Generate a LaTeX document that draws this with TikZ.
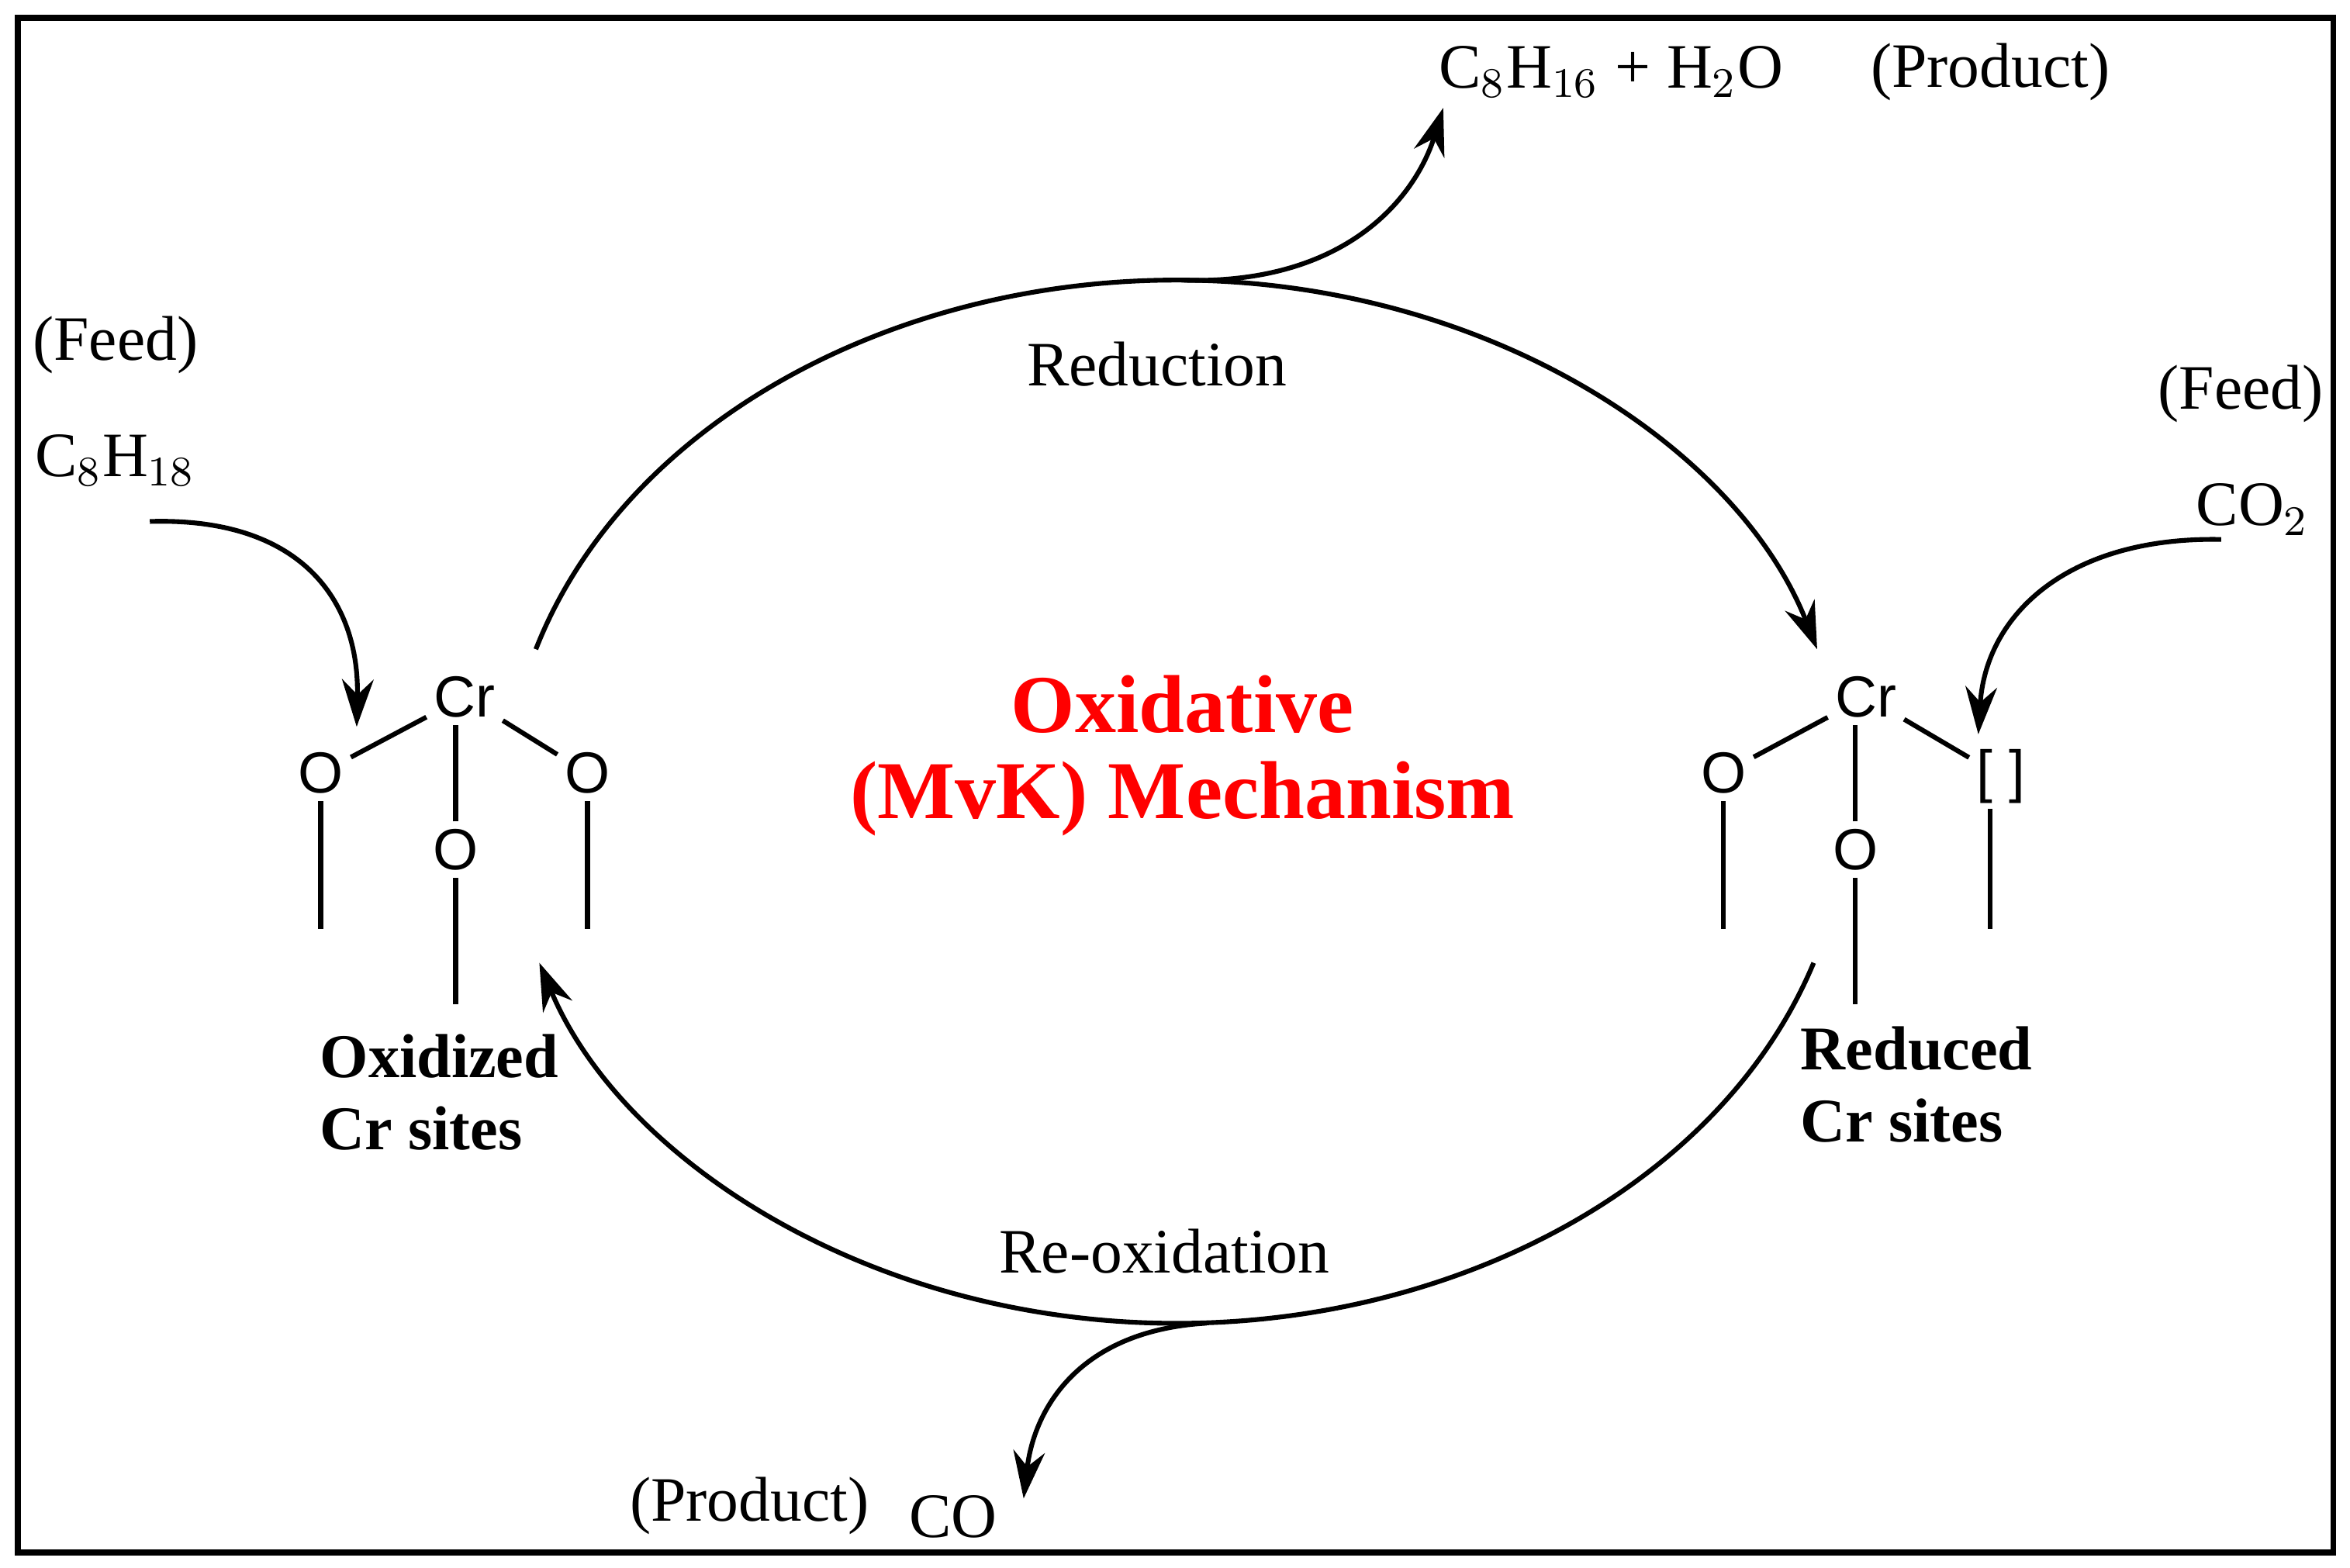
\documentclass[tikz,border=0pt]{standalone}
\usepackage{fontspec}
\setmainfont{Liberation Serif}
\newfontfamily\sansf{Liberation Sans}
\usetikzlibrary{arrows.meta}
\begin{document}
\begin{tikzpicture}[x=0.01cm,y=-0.01cm,
  line width=0.9pt,
  arr/.style={-{Stealth[length=9pt,width=6pt]}},
  txt/.style={font=\fontsize{12}{14}\selectfont,inner sep=0pt},
  lbl/.style={font=\fontsize{11.8}{14}\selectfont\bfseries,align=left,inner sep=0pt,anchor=west},
  atm/.style={font=\sansf\fontsize{11}{13}\selectfont,inner sep=1pt},
  mech/.style={font=\fontsize{15.6}{19}\selectfont\bfseries,text=red,inner sep=0pt}]
\useasboundingbox (0,0) rectangle (1568,1046);
\draw[line width=1.1pt] (12,12) rectangle (1557,1036);
% cycle
\coordinate (c) at (785,535);
\draw[arr] (c) ++(163:447 and -348) arc[start angle=163,end angle=17,x radius=447,y radius=-348];
\draw[arr] (c) ++(-18:447 and -348) arc[start angle=-18,end angle=-162,x radius=447,y radius=-348];
\coordinate (t) at (790,187);
\coordinate (b) at (805,883);
\draw[arr] (t) .. controls (900,190) and (945,130) .. (963,72);
\draw[arr] (b) .. controls (720,888) and (690,940) .. (683,1000);
% feeds
\coordinate (f1) at (100,348);
\coordinate (f2) at (1482,360);
\draw[arr] (f1) .. controls (200,345) and (240,400) .. (238,485);
\draw[arr] (f2) .. controls (1380,358) and (1325,410) .. (1320,490);
% texts
\node[txt] at (77,230) {(Feed)};
\node[txt] at (77,307) {C$_8$H$_{18}$};
\node[txt] at (1495,263) {(Feed)};
\node[txt] at (1503,340) {CO$_2$};
\node[txt] at (1075,48) {C$_8$H$_{16}$ + H$_2$O};
\node[txt] at (1328,48) {(Product)};
\node[txt] at (772,243) {Reduction};
\node[txt] at (777,835) {Re-oxidation};
\node[txt] at (500,1005) {(Product)};
\node[txt] at (636,1012) {CO};
\node[mech] at (789,470) {Oxidative};
\node[mech] at (789,533) {(MvK) Mechanism};
\node[lbl] at (212,705) {Oxidized};
\node[lbl] at (212,753) {Cr sites};
\node[lbl] at (1200,700) {Reduced};
\node[lbl] at (1200,748) {Cr sites};
% left Cr
\node[atm] (cr1) at (310,465) {Cr};
\node[atm] (o1a) at (214,516) {O};
\node[atm] (o1b) at (392,516) {O};
\node[atm] (o1c) at (304,567) {O};
\draw (o1a) -- (cr1) -- (o1b);
\draw (o1c.north) -- (o1c.north |- cr1.south);
\draw (o1a.south) -- (214,620);
\draw (o1b.south) -- (392,620);
\draw (o1c.south) -- (304,670);
% right Cr
\node[atm] (cr2) at (1245,465) {Cr};
\node[atm] (o2a) at (1150,516) {O};
\node[atm] (o2b) at (1335,518) {[ ]};
\node[atm] (o2c) at (1238,567) {O};
\draw (o2a) -- (cr2) -- (o2b);
\draw (o2c.north) -- (o2c.north |- cr2.south);
\draw (o2a.south) -- (1150,620);
\draw (1328,540) -- (1328,620);
\draw (o2c.south) -- (1238,670);
\end{tikzpicture}
\end{document}
